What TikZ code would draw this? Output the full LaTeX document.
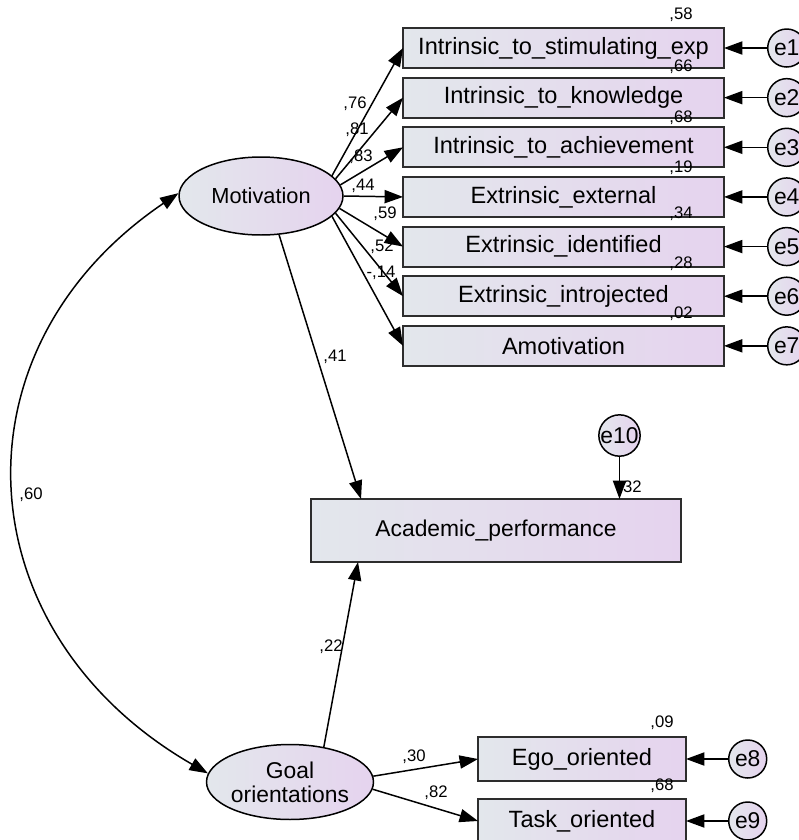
\documentclass[tikz,border=0pt]{standalone}
\usepackage{fontspec}
\setmainfont{Liberation Sans}
\usetikzlibrary{positioning}
\usetikzlibrary{shapes,arrows.meta}

\definecolor{amosleft}{RGB}{227,231,236}
\definecolor{amosright}{RGB}{229,211,238}
\definecolor{amosline}{RGB}{45,45,45}

\begin{document}
\begin{tikzpicture}[%
    x=0.02cm, y=-0.02cm,
    ->,
    >={Triangle[length=10.5pt,width=7.5pt]},
    line width=0.85pt,
    node distance=0.193cm,
    observed/.style={%
      rectangle,
      minimum width=6.42cm,
      minimum height=0.8cm,
      outer sep=0pt,
      left color=amosleft,
      right color=amosright,
      draw=amosline,
      line width=1.2pt,
      font=\fontsize{13.4}{15}\selectfont
    },
    latent/.style={%
      ellipse,
      minimum width=3.28cm,
      minimum height=1.56cm,
      inner sep=0pt,
      left color=amosleft,
      right color=amosright,
      draw,
      align=center,
      font=\fontsize{13}{13.5}\selectfont
    },
    error/.style={%
      circle,
      minimum size=0.76cm,
      inner sep=0pt,
      left color=amosleft,
      right color=amosright,
      draw,
      font=\fontsize{13}{15}\selectfont
    },
    coef/.style={%
      inner sep=0pt,
      font=\fontsize{9.5}{11}\selectfont
    }
  ]
  \useasboundingbox (0,0) rectangle (799,840);
  % Nodes: 
    \node[latent, font=\fontsize{12.4}{13.5}\selectfont] (Mot) at (261,196) {Motivation};
    \node[latent, minimum height=1.5cm] (Goal) at (290,782) {Goal\\orientations};
    \node[observed] (I1) at (563.5,48)                  {Intrinsic\_to\_stimulating\_exp};
    \node[observed] (I2) [below=of I1]                  {Intrinsic\_to\_knowledge};
    \node[observed] (I3) [below=of I2]                  {Intrinsic\_to\_achievement};
    \node[observed] (X1) [below=of I3]                  {Extrinsic\_external};
    \node[observed] (X2) [below=of X1]                  {Extrinsic\_identified};
    \node[observed] (X3) [below=of X2]                  {Extrinsic\_introjected};
    \node[observed] (Am) [below=of X3]                  {Amotivation};
    \node[error] (e1) [node distance=0.86cm, right=of I1] {e1};
    \node[error] (e2) [node distance=0.86cm, right=of I2] {e2};
    \node[error] (e3) [node distance=0.86cm, right=of I3] {e3};
    \node[error] (e4) [node distance=0.86cm, right=of X1] {e4};
    \node[error] (e5) [node distance=0.86cm, right=of X2] {e5};
    \node[error] (e6) [node distance=0.86cm, right=of X3] {e6};
    \node[error] (e7) [node distance=0.86cm, right=of Am] {e7};
    \node[observed, minimum width=7.4cm, minimum height=1.26cm, font=\fontsize{13}{15}\selectfont] (Acad) at (496,530.5) {Academic\_performance};
    \node[error] (e10) at (619.5,435.5)                 {e10};
    \node[observed, minimum width=4.16cm, minimum height=0.88cm] (Ego) at (582,759) {Ego\_oriented};
    \node[observed, minimum width=4.16cm, minimum height=0.88cm] (Task) [node distance=0.36cm, below=of Ego] {Task\_oriented};
    \node[error] (e8) [node distance=0.84cm, right=of Ego]  {e8};
    \node[error] (e9) [node distance=0.84cm, right=of Task] {e9};
  % Coefficients: 
    \node[coef] (cI1)  at (355,104) {,76};
    \node[coef] (cI2)  at (357,130) {,81};
    \node[coef] (cI3)  at (361,157) {,83};
    \node[coef] (cX1)  at (363,186) {,44};
    \node[coef] (cX2)  at (385,214) {,59};
    \node[coef] (cX3)  at (382,247) {,52};
    \node[coef] (cAm)  at (381,273) {-,14};
    \node[coef] (rI1)  at (681,15)  {,58};
    \node[coef] (rI2)  at (681,67)  {,66};
    \node[coef] (rI3)  at (681,118) {,68};
    \node[coef] (rX1)  at (681,168) {,19};
    \node[coef] (rX2)  at (681,214) {,34};
    \node[coef] (rX3)  at (681,264) {,28};
    \node[coef] (rAm)  at (681,314) {,02};
    \node[coef] (cMA)  at (335,357) {,41};
    \node[coef] (cGA)  at (331,647) {,22};
    \node[coef] (rAc)  at (630,488) {,32};
    \node[coef] (cCov) at (31,495)  {,60};
    \node[coef] (cEgo) at (414,757) {,30};
    \node[coef] (cTsk) at (436,793) {,82};
    \node[coef] (rEgo) at (662,723) {,09};
    \node[coef] (rTsk) at (662,786) {,68};
  % Paths: 
    \path (Mot.16)  edge (I1.west)
          (Mot.13)  edge (I2.west)
          (Mot.8)   edge (I3.west)
          (Mot.0)   edge (X1.west)
          (Mot.-9)  edge (X2.west)
          (Mot.-13) edge (X3.west)
          (Mot.-16) edge (Am.west)
          (e1) edge (I1)
          (e2) edge (I2)
          (e3) edge (I3)
          (e4) edge (X1)
          (e5) edge (X2)
          (e6) edge (X3)
          (e7) edge (Am)
          (e8) edge (Ego)
          (e9) edge (Task)
          (e10) edge (e10 |- Acad.north)
          (Mot.-65) edge ([xshift=1cm]Acad.north west)
          (Goal.46) edge ([xshift=0.94cm]Acad.south west)
          (Goal.4)  edge (Ego.west)
          (Goal.-5) edge (Task.west);
    \draw[<->] (Mot.178) .. controls (-53,350) and (-36,633) .. (Goal.174);
\end{tikzpicture}
\end{document}
